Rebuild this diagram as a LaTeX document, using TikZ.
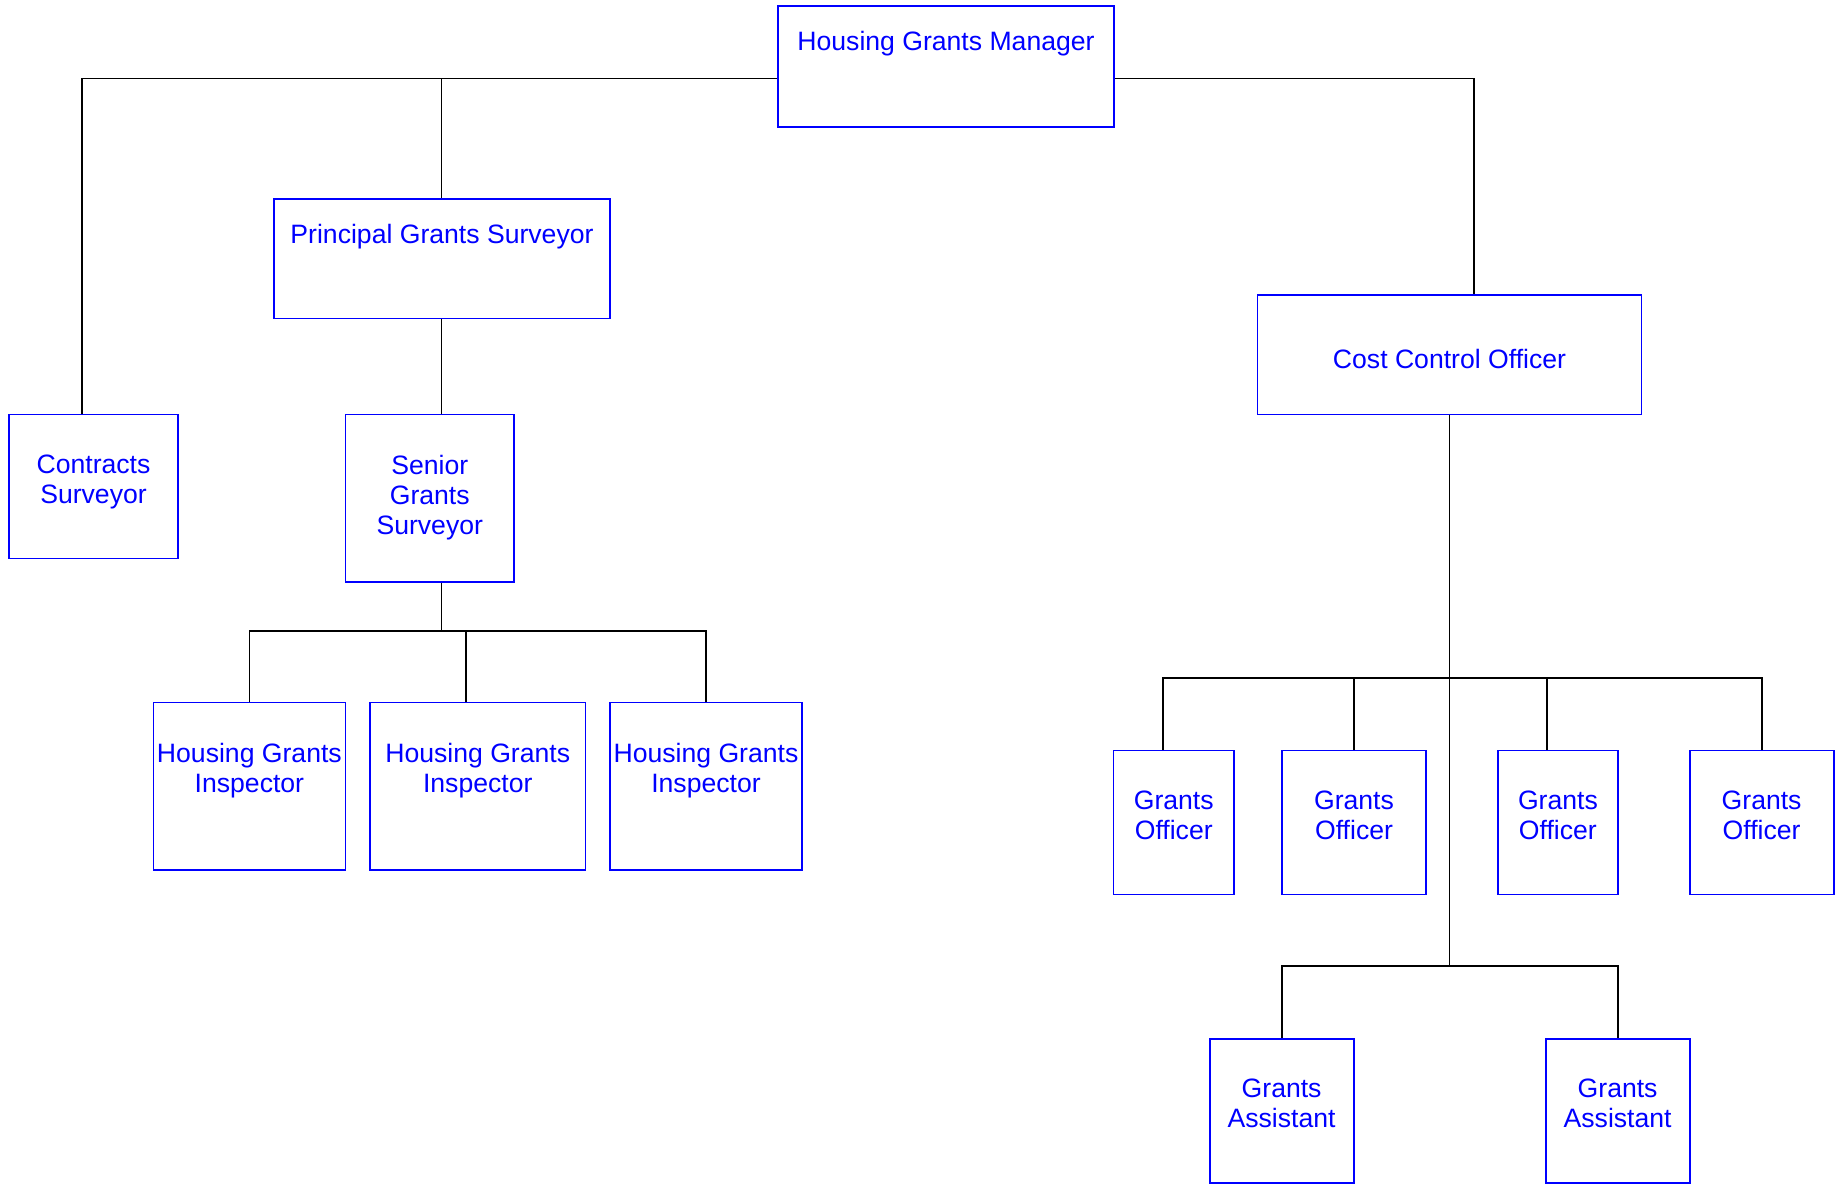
\documentclass[tikz,border=0pt]{standalone}
\usepackage{fontspec}
\setmainfont{Liberation Sans}
\usetikzlibrary{calc}
\newcommand{\postfont}{\fontsize{26.6}{30.4}\selectfont}

\begin{document}
\begin{tikzpicture}[x=1pt, y=-1pt,
    post/.style={rectangle, draw=blue, line width=1.8pt, inner sep=0pt},
    caption/.style={anchor=north, inner sep=0pt, align=center, text=blue, font=\postfont},
    link/.style={line width=1.8pt, black}]

    \useasboundingbox (0,0) rectangle (1836,1183);

    % top of the tree
    \node[post, minimum width=336pt, minimum height=121pt, label={[caption, yshift=-26pt]north:Housing Grants Manager}] (hgm) at (946,66.5) {};
    \node[post, minimum width=336pt, minimum height=119.5pt, label={[caption, yshift=-26pt]north:Principal Grants Surveyor}] (pgs) at (442,258.75) {};
    \node[post, minimum width=169pt, minimum height=144pt, label={[caption, yshift=-41pt]north:Contracts\\Surveyor}] (cs) at (93.5,486.5) {};
    \node[post, minimum width=168.5pt, minimum height=167.5pt, label={[caption, yshift=-41pt]north:Senior\\Grants\\Surveyor}] (sgs) at (429.75,498.25) {};
    \node[post, minimum width=384pt, minimum height=119.5pt, label={[caption, yshift=-54.8pt]north:Cost Control Officer}] (cco) at (1449.5,354.75) {};

    % inspectors
    \node[post, minimum width=192pt, minimum height=167.5pt, label={[caption, yshift=-41pt]north:Housing Grants\\Inspector}] (hgi1) at (249.4,786.25) {};
    \node[post, minimum width=215.5pt, minimum height=167.5pt, label={[caption, yshift=-41pt]north:Housing Grants\\Inspector}] (hgi2) at (477.75,786.25) {};
    \node[post, minimum width=192pt, minimum height=167.5pt, label={[caption, yshift=-41pt]north:Housing Grants\\Inspector}] (hgi3) at (706,786.25) {};

    % officers and assistants
    \node[post, minimum width=120.5pt, minimum height=144pt, label={[caption, yshift=-41pt]north:Grants\\Officer}] (go1) at (1173.75,822.5) {};
    \node[post, minimum width=144pt, minimum height=144pt, label={[caption, yshift=-41pt]north:Grants\\Officer}] (go2) at (1354,822.5) {};
    \node[post, minimum width=120.6pt, minimum height=144pt, label={[caption, yshift=-41pt]north:Grants\\Officer}] (go3) at (1557.9,822.5) {};
    \node[post, minimum width=144pt, minimum height=144pt, label={[caption, yshift=-41pt]north:Grants\\Officer}] (go4) at (1761.6,822.5) {};
    \node[post, minimum width=144pt, minimum height=144pt, label={[caption, yshift=-41pt]north:Grants\\Assistant}] (ga1) at (1281.6,1110.6) {};
    \node[post, minimum width=144pt, minimum height=144pt, label={[caption, yshift=-41pt]north:Grants\\Assistant}] (ga2) at (1617.6,1110.6) {};

    % junction points
    \coordinate (hgmleft) at ([yshift=-11.9pt]hgm.west);
    \coordinate (hgmright) at ([yshift=-11.9pt]hgm.east);
    \coordinate (csdrop) at (82,78.4);
    \coordinate (pgsdrop) at (441.4,78.4);
    \coordinate (ccotop) at ([xshift=24.5pt]cco.north);
    \coordinate (sgsbus) at (441.4,631);
    \coordinate (hgi2top) at ([xshift=-11.75pt]hgi2.north);
    \coordinate (gobus) at (cco.south |- 0,678);
    \coordinate (gabus) at (cco.south |- 0,966);
    \coordinate (go1top) at ([xshift=-11pt]go1.north);
    \coordinate (go3top) at ([xshift=-11.2pt]go3.north);

    % connectors
    \draw[link] (hgmleft) -- (csdrop) -- (csdrop |- cs.north);
    \draw[link] (pgsdrop) -- (pgsdrop |- pgs.north);
    \draw[link] (hgmright) -| (ccotop);
    \draw[link] (pgsdrop |- pgs.south) -- (pgsdrop |- sgs.north);
    \draw[link] (pgsdrop |- sgs.south) -- (sgsbus);
    \draw[link] (hgi1.north) |- (sgsbus) -| (hgi3.north);
    \draw[link] (hgi2top) -- (hgi2top |- sgsbus);
    \draw[link] (cco.south) -- (gabus);
    \draw[link] (go1top) |- (gobus) -| (go4.north);
    \draw[link] (go2.north) -- (go2.north |- gobus);
    \draw[link] (go3top) -- (go3top |- gobus);
    \draw[link] (ga1.north) |- (gabus) -| (ga2.north);

\end{tikzpicture}
\end{document}
